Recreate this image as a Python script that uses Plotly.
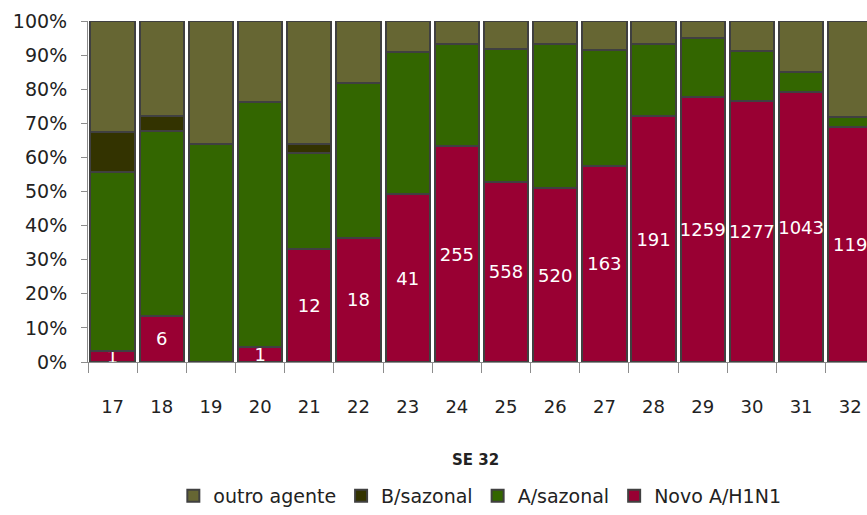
import plotly.graph_objects as go

# semana epidemiológica
weeks = ["17", "18", "19", "20", "21", "22", "23", "24",
         "25", "26", "27", "28", "29", "30", "31", "32"]

# share of samples (%) per agent
novo_h1n1 = [3.2, 13.5, 0.0, 4.4, 33.2, 36.4, 49.2, 63.2,
             52.9, 51.0, 57.5, 72.1, 77.8, 76.6, 79.1, 69.0]
a_sazonal = [52.6, 54.2, 63.9, 71.9, 28.0, 45.5, 41.7, 30.0,
             39.0, 42.4, 33.9, 21.1, 17.2, 14.6, 5.8, 2.9]
b_sazonal = [11.7, 4.4, 0.0, 0.0, 2.7, 0.0, 0.0, 0.0,
             0.0, 0.0, 0.0, 0.0, 0.0, 0.0, 0.0, 0.0]
outro_agente = [32.5, 27.9, 36.1, 23.7, 36.1, 18.1, 9.1, 6.8,
                8.1, 6.6, 8.6, 6.8, 5.0, 8.8, 15.1, 28.1]

# case counts written inside the Novo A/H1N1 segment
novo_counts = ["1", "6", "", "1", "12", "18", "41", "255",
               "558", "520", "163", "191", "1259", "1277", "1043", "119"]

FONT = "DejaVu Sans"
edge = dict(color="#404040", width=2)

fig = go.Figure()

fig.add_trace(go.Bar(
    x=weeks, y=novo_h1n1, name="Novo A/H1N1",
    marker=dict(color="#990033", line=edge),
    text=novo_counts, textposition="inside", insidetextanchor="middle",
    textangle=0, constraintext="none",
    textfont=dict(family=FONT, size=18, color="white"),
))
fig.add_trace(go.Bar(
    x=weeks, y=a_sazonal, name="A/sazonal",
    marker=dict(color="#336600", line=edge),
))
fig.add_trace(go.Bar(
    x=weeks, y=b_sazonal, name="B/sazonal",
    marker=dict(color="#333300", line=edge),
))
fig.add_trace(go.Bar(
    x=weeks, y=outro_agente, name="outro agente",
    marker=dict(color="#666633", line=edge),
))

fig.update_layout(
    width=867, height=515,
    margin=dict(l=88, r=0, t=21, b=152),
    barmode="stack", bargap=0.1,
    plot_bgcolor="white", paper_bgcolor="white",
    font=dict(family=FONT, size=17, color="#222222"),
    showlegend=True,
    legend=dict(
        orientation="h", traceorder="reversed",
        x=0.503, xanchor="center", y=-0.393, yanchor="middle",
        font=dict(family=FONT, size=19, color="#222222"),
    ),
    annotations=[dict(
        text="<b>SE 32</b>", xref="paper", yref="paper",
        x=0.498, y=-0.288, xanchor="center", yanchor="middle",
        showarrow=False, font=dict(family=FONT, size=15, color="#222222"),
    )],
)

# last week is cut by the right edge, like in the original
fig.update_xaxes(
    range=[-0.5, 15.34], showgrid=False,
    showline=True, linecolor="#8c8c8c", linewidth=1,
    ticks="outside", tickson="boundaries", ticklen=10, tickcolor="#8c8c8c",
    ticklabelstandoff=28,
    tickfont=dict(family=FONT, size=18, color="#222222"),
)
fig.update_yaxes(
    range=[0, 100], dtick=10, ticksuffix="%", showgrid=False,
    showline=True, linecolor="#8c8c8c", linewidth=1,
    ticks="outside", ticklen=6, tickcolor="#8c8c8c",
    ticklabelstandoff=10, zeroline=False,
    tickfont=dict(family=FONT, size=19, color="#222222"),
)

# drop the default page margin so the figure fills the window
fig.write_html("out.html", config={"displayModeBar": False},
               post_script="document.body.style.margin = '0';")
